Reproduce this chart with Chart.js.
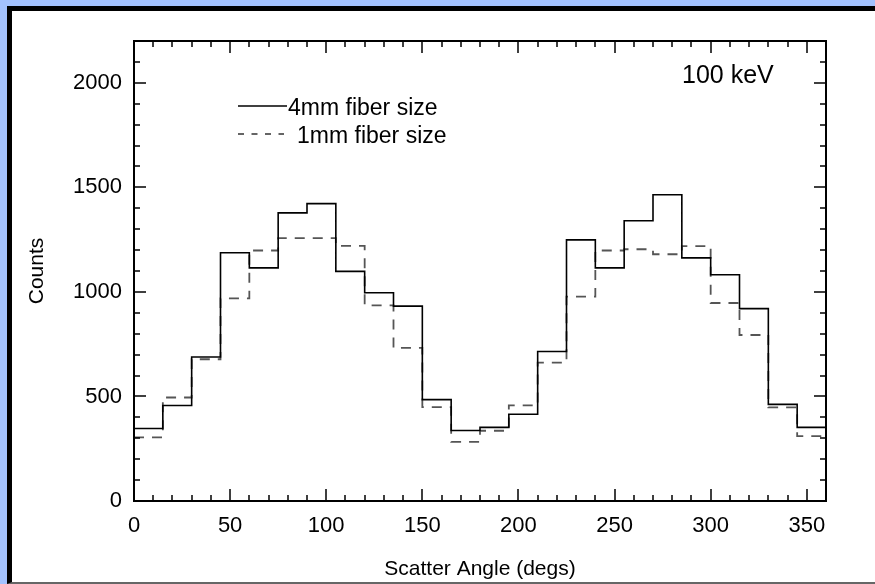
<!DOCTYPE html>
<html>
<head>
<meta charset="utf-8">
<script src="https://cdn.jsdelivr.net/npm/chart.js@4.4.1/dist/chart.umd.min.js"></script>
<style>
  html, body { margin: 0; padding: 0; }
  body { width: 875px; height: 584px; background: #a3c2fe; position: relative; overflow: hidden; }
  #panel {
    position: absolute; left: 7px; top: 6px; width: 863px; height: 571px;
    background: #fff; border-top: 5px solid #000; border-left: 5px solid #000;
    border-bottom: 2px solid #666;
  }
  canvas { display: block; }
</style>
</head>
<body>
<div id="panel"><canvas id="scatterChart" width="863" height="571"></canvas></div>
<script>
// histogram bin edges (degrees), 15 degree bins
var binEdges = [0, 15, 30, 45, 60, 75, 90, 105, 120, 135, 150, 165, 180,
                195, 210, 225, 240, 255, 270, 285, 300, 315, 330, 345, 360];

// counts per bin
var counts4mm = [347, 457, 689, 1187, 1115, 1378, 1422, 1098, 996, 932, 485, 337,
                 352, 415, 715, 1249, 1115, 1340, 1465, 1163, 1082, 920, 462, 352];
var counts1mm = [304, 495, 678, 969, 1198, 1257, 1257, 1220, 936, 732, 449, 283,
                 336, 457, 662, 977, 1198, 1204, 1180, 1219, 947, 794, 448, 310];

var xTicks = [0, 50, 100, 150, 200, 250, 300, 350];
var yTicks = [0, 500, 1000, 1500, 2000];
var xMinorStep = 10, yMinorStep = 100;
var seriesNames = ['4mm fiber size', '1mm fiber size'];
var energyLabel = '100 keV';

// step histogram points: one per left edge, plus a closing point at the last edge
function toSteps(vals) {
    var pts = vals.map(function(v, i) { return { x: binEdges[i], y: v }; });
    pts.push({ x: binEdges[binEdges.length - 1], y: vals[vals.length - 1] });
    return pts;
}

var fontFam = 'Arial, "Liberation Sans", sans-serif';
Chart.defaults.font.family = fontFam;
Chart.defaults.color = '#000';

// inward ticks on all four sides, frame, legend and energy label
var framePlugin = {
    id: 'frame',
    afterDatasetsDraw: function(chart) {
        var ctx = chart.ctx, a = chart.chartArea;
        var xs = chart.scales.x, ys = chart.scales.y;
        ctx.save();
        ctx.strokeStyle = '#000';
        ctx.lineWidth = 1.5;
        ctx.setLineDash([]);
        ctx.beginPath();
        for (var v = xs.min; v <= xs.max; v += xMinorStep) {
            var px = Math.round(xs.getPixelForValue(v));
            var len = v % 50 === 0 ? 12 : 6;
            ctx.moveTo(px, a.bottom); ctx.lineTo(px, a.bottom - len);
            ctx.moveTo(px, a.top); ctx.lineTo(px, a.top + len);
        }
        for (var w = ys.min; w <= ys.max; w += yMinorStep) {
            var py = Math.round(ys.getPixelForValue(w));
            var l2 = w % 500 === 0 ? 12 : 6;
            ctx.moveTo(a.left, py); ctx.lineTo(a.left + l2, py);
            ctx.moveTo(a.right, py); ctx.lineTo(a.right - l2, py);
        }
        ctx.stroke();
        ctx.lineWidth = 2;
        ctx.strokeRect(a.left, a.top, a.right - a.left, a.bottom - a.top);

        // legend
        ctx.font = '23px ' + fontFam;
        ctx.fillStyle = '#000';
        ctx.textBaseline = 'alphabetic';
        ctx.textAlign = 'left';
        ctx.lineWidth = 1.5;
        ctx.beginPath();
        ctx.moveTo(a.left + 104, a.top + 65); ctx.lineTo(a.left + 153, a.top + 65);
        ctx.stroke();
        ctx.fillText(seriesNames[0], a.left + 154, a.top + 74);
        ctx.strokeStyle = '#333';
        ctx.setLineDash([6, 7.5]);
        ctx.beginPath();
        ctx.moveTo(a.left + 104, a.top + 93); ctx.lineTo(a.left + 150, a.top + 93);
        ctx.stroke();
        ctx.setLineDash([]);
        ctx.fillText(seriesNames[1], a.left + 163, a.top + 102);

        ctx.font = '25px ' + fontFam;
        ctx.fillText(energyLabel, a.left + 548, a.top + 42);
        ctx.restore();
    }
};

var ctxHist = document.getElementById('scatterChart');
var histChart = new Chart(ctxHist, {
    type: 'line',
    data: {
        datasets: [{
            label: seriesNames[0],
            data: toSteps(counts4mm),
            stepped: 'before',
            borderColor: '#000',
            borderWidth: 1.6,
            pointRadius: 0,
            fill: false
        }, {
            label: seriesNames[1],
            data: toSteps(counts1mm),
            stepped: 'before',
            borderColor: '#555',
            borderWidth: 1.8,
            borderDash: [10, 8],
            pointRadius: 0,
            fill: false
        }]
    },
    options: {
        responsive: false,
        animation: false,
        layout: { padding: { left: 0, right: 49, top: 30, bottom: 0 } },
        scales: {
            x: {
                type: 'linear',
                min: 0,
                max: 360,
                afterBuildTicks: function(s) { s.ticks = xTicks.map(function(v) { return { value: v }; }); },
                afterFit: function(s) { s.height = 81; },
                grid: { display: false, drawTicks: false },
                border: { display: false },
                ticks: { padding: 12, font: { size: 22 }, maxRotation: 0, autoSkip: false,
                         callback: function(v) { return String(v); } },
                title: { display: true, text: 'Scatter Angle (degs)', font: { size: 21 }, padding: { top: 0, bottom: 0 } }
            },
            y: {
                min: 0,
                max: 2200,
                afterBuildTicks: function(s) { s.ticks = yTicks.map(function(v) { return { value: v }; }); },
                afterFit: function(s) { s.width = 122; },
                grid: { display: false, drawTicks: false },
                border: { display: false },
                ticks: { padding: 12, font: { size: 22 }, autoSkip: false,
                         callback: function(v) { return String(v); } },
                title: { display: true, text: 'Counts', font: { size: 21 }, padding: { top: 13, bottom: 0 } }
            }
        },
        plugins: {
            legend: { display: false },
            tooltip: { enabled: false }
        }
    },
    plugins: [framePlugin]
});
</script>
</body>
</html>
